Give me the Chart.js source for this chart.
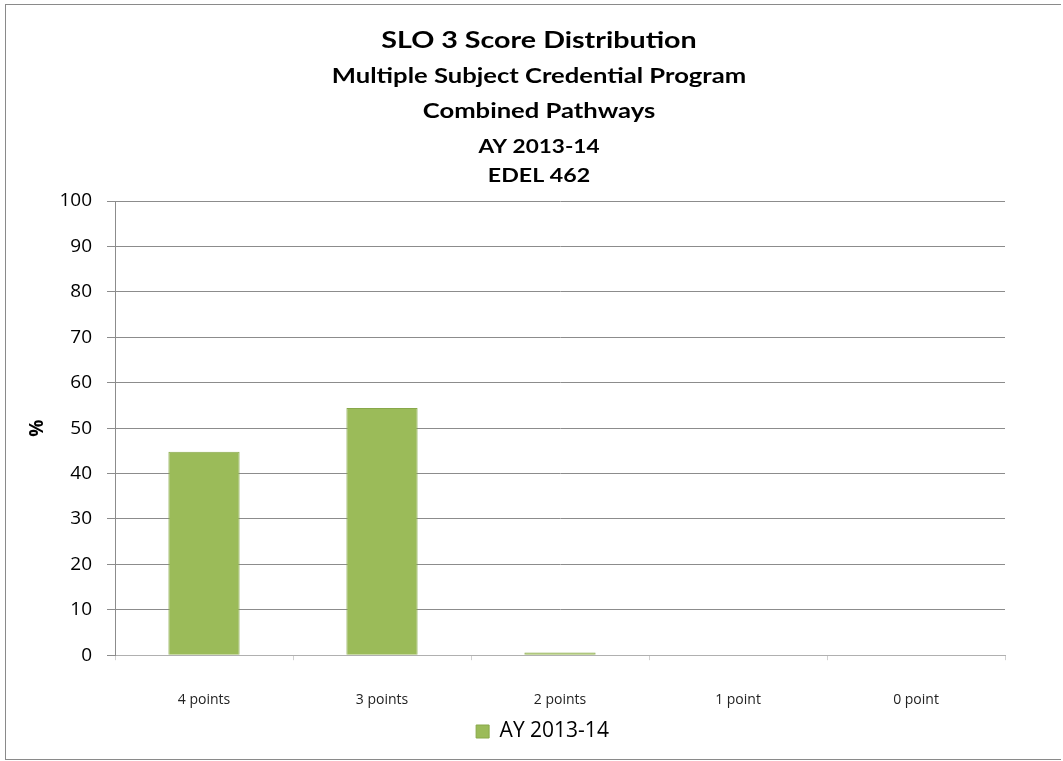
<!DOCTYPE html>
<html>
<head>
<meta charset="utf-8">
<script src="https://cdn.jsdelivr.net/npm/chart.js@4.4.0/dist/chart.umd.min.js"></script>
<style>
html,body{margin:0;padding:0;background:#fff;}
#wrap{position:absolute;left:0;top:0;width:1063px;height:761px;}
#frame{position:absolute;left:5px;top:4px;width:1056px;height:756px;border:1px solid #8a8a8a;border-right:none;box-sizing:border-box;pointer-events:none;}
</style>
</head>
<body>
<div id="wrap"><canvas id="c" width="1063" height="761"></canvas><div id="frame"></div></div>
<script>
const titleLines = ["SLO 3 Score Distribution", "Multiple Subject Credential Program", "Combined Pathways", "AY 2013-14", "EDEL 462"];
const categories = ["4 points", "3 points", "2 points", "1 point", "0 point"];
const seriesName = "AY 2013-14";
const values = [44.8, 54.4, 0.6, 0, 0];
const yTicks = [0, 10, 20, 30, 40, 50, 60, 70, 80, 90, 100];
const yAxisTitle = "%";

const TFONT = "Lato, 'Liberation Sans', sans-serif";
const FONT = "'Open Sans', 'Liberation Sans', sans-serif";
const titleStyles = [
  {size: 23.5, base: 48}, {size: 21, base: 83}, {size: 21, base: 118}, {size: 18.5, base: 153}, {size: 19, base: 182}
];

const titlePlugin = {
  id: 'titleLines',
  afterLayout(chart) {
    if (chart.legend) { chart.legend.left += 40; chart.legend.right += 40; }
  },
  afterDraw(chart) {
    const ctx = chart.ctx;
    ctx.save();
    ctx.fillStyle = '#000';
    ctx.textAlign = 'center';
    ctx.textBaseline = 'alphabetic';
    ctx.translate(539, 0);
    ctx.scale(1.22, 1);
    titleLines.forEach((t, i) => {
      ctx.font = 'bold ' + titleStyles[i].size + 'px ' + TFONT;
      ctx.fillText(t, 0, titleStyles[i].base);
    });
    ctx.restore();
  }
};

new Chart(document.getElementById('c'), {
  type: 'bar',
  data: {
    labels: categories,
    datasets: [{
      label: seriesName,
      data: values,
      backgroundColor: '#9bbb59',
      borderColor: '#88a84a',
      borderWidth: 1,
      categoryPercentage: 0.8,
      barPercentage: 0.5
    }]
  },
  options: {
    responsive: false,
    animation: false,
    layout: {padding: {top: 201, right: 58, left: 0, bottom: 9}},
    plugins: {
      title: {display: false},
      tooltip: {enabled: false},
      legend: {
        display: true,
        position: 'bottom',
        labels: {
          font: {family: FONT, size: 21},
          color: '#000',
          boxWidth: 13,
          boxHeight: 13,
          padding: 0
        }
      }
    },
    scales: {
      x: {
        afterFit(scale) { scale.height -= 18; },
        grid: {display: true, drawOnChartArea: false, tickLength: 5, color: '#d0d0d0'},
        border: {display: true, color: '#b0b0b0'},
        ticks: {font: {family: FONT, size: 14}, color: '#222', padding: 31, maxRotation: 0}
      },
      y: {
        min: 0, max: 100,
        afterBuildTicks(scale) { scale.ticks = yTicks.map(v => ({value: v})); },
        afterFit(scale) { scale.width = 115; },
        grid: {color: '#8c8c8c', tickLength: 8},
        border: {display: true, color: '#8c8c8c'},
        ticks: {font: {family: FONT, size: 19}, color: '#000', padding: 15},
        title: {display: true, text: yAxisTitle, font: {family: FONT, size: 19, weight: 'bold'}, color: '#000', padding: {top: 26, bottom: 0}}
      }
    }
  },
  plugins: [titlePlugin]
});
</script>
</body>
</html>
